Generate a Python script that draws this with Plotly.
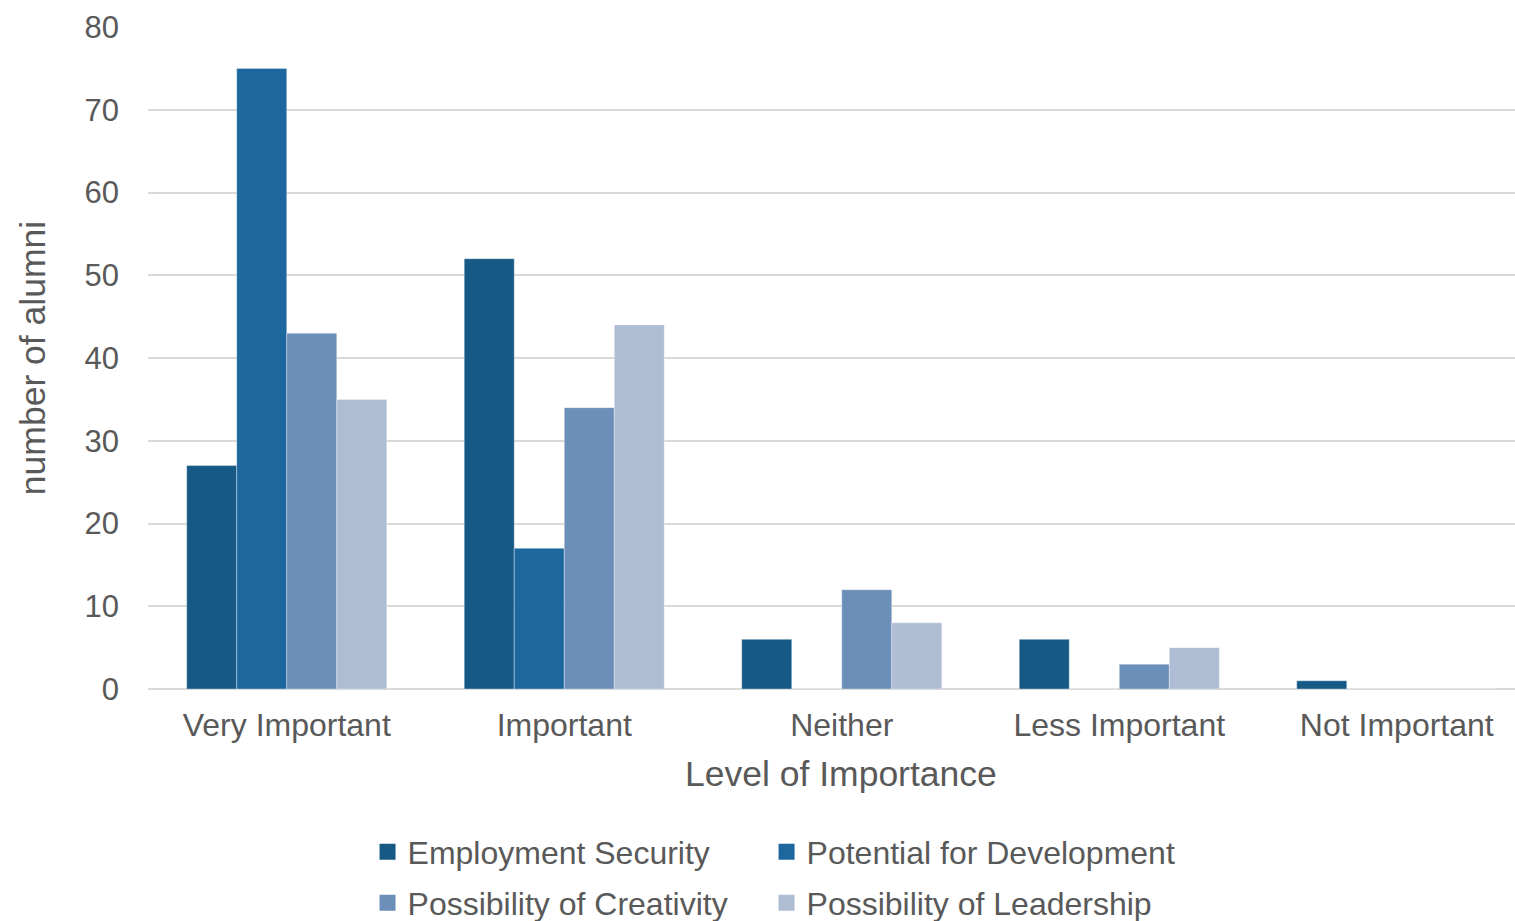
import plotly.graph_objects as go

categories = ["Very Important", "Important", "Neither", "Less Important", "Not Important"]
employment_security = [27, 52, 6, 6, 1]
potential_for_development = [75, 17, 0, 0, 0]
possibility_of_creativity = [43, 34, 12, 3, 0]
possibility_of_leadership = [35, 44, 8, 5, 0]

# name, values, colour, legend slot
series = [
    ("Employment Security", employment_security, "#175985", "legend"),
    ("Potential for Development", potential_for_development, "#1B679E", "legend2"),
    ("Possibility of Creativity", possibility_of_creativity, "#6B8FB8", "legend3"),
    ("Possibility of Leadership", possibility_of_leadership, "#AEBDD4", "legend4"),
]

FONT = "Liberation Sans, Arial, sans-serif"
GREY = "#595959"

fig = go.Figure()
for name, vals, color, leg in series:
    fig.add_trace(go.Bar(
        name=name, x=categories, y=vals, showlegend=False, legendgroup=name,
        marker=dict(color=color, line=dict(color="rgba(255,255,255,0.35)", width=1)),
    ))
    # square legend key for the series
    fig.add_trace(go.Scatter(
        name=name, x=[None], y=[None], mode="markers", legend=leg, legendgroup=name,
        marker=dict(symbol="square", size=16, color=color),
    ))

legend_common = dict(
    orientation="h", xanchor="left", yanchor="middle",
    font=dict(size=32, color=GREY, family=FONT), itemwidth=30,
    bgcolor="rgba(0,0,0,0)",
)
col1, col2 = 0.1606, 0.4525
row1, row2 = -0.246, -0.323

fig.update_layout(
    width=1515, height=921,
    margin=dict(l=148, r=0, t=27, b=232, autoexpand=False),
    paper_bgcolor="white", plot_bgcolor="white",
    barmode="group", bargap=0.279, bargroupgap=0,
    font=dict(family=FONT, color=GREY, size=32),
    xaxis=dict(
        tickfont=dict(size=32, color=GREY),
        range=[-0.5, 4.426],
        showline=False, showgrid=False, ticks="", ticklabelstandoff=14,
    ),
    yaxis=dict(
        title=dict(text="number of alumni", font=dict(size=35.5, color=GREY), standoff=28),
        range=[0, 80], dtick=10,
        tickfont=dict(size=31, color=GREY),
        showgrid=True, gridcolor="#D9D9D9", gridwidth=2,
        zeroline=True, zerolinecolor="#D9D9D9", zerolinewidth=2,
        ticks="", ticklabelstandoff=28,
    ),
    legend=dict(x=col1, y=row1, **legend_common),
    legend2=dict(x=col2, y=row1, **legend_common),
    legend3=dict(x=col1, y=row2, **legend_common),
    legend4=dict(x=col2, y=row2, **legend_common),
    showlegend=True,
    annotations=[dict(
        text="Level of Importance", xref="paper", yref="paper",
        x=0.507, y=-0.1284, xanchor="center", yanchor="middle",
        showarrow=False, font=dict(size=35.5, color=GREY, family=FONT),
    )],
)

fig.write_html("out.html")
